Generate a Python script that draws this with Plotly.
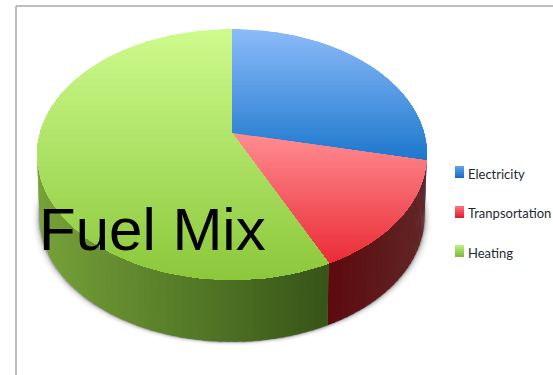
import math
import plotly.graph_objects as go

# Fuel mix shares, in percent, clockwise from twelve o'clock
categories = ["Electricity", "Tranpsortation", "Heating"]
shares = [28.5, 14.5, 57]
chart_title = "Fuel Mix"

W, H = 553, 375

# Drawing styles per category: face gradient (far to near), wall gradient (left to right)
FACE = [((138, 186, 248), (30, 120, 205)),
        ((255, 140, 145), (235, 45, 55)),
        ((205, 250, 140), (140, 200, 60))]
WALL = [((30, 80, 140), (30, 80, 140)),
        ((92, 10, 14), (98, 38, 40)),
        ((118, 162, 56), (54, 84, 24))]
SWATCH = [((90, 160, 235), (30, 110, 195)),
          ((255, 110, 120), (225, 35, 50)),
          ((190, 235, 125), (125, 190, 60))]

# Perspective disc: centre and tilt of the cylinder top
CX, AP_Y, RX = 232.0, 133.0, 192.0
K_A, K_C = 99.0, -0.171
DEPTH = 62.0


def project(px, py, drop=0.0):
    """Map a unit-disc point (py grows toward the viewer) onto the page."""
    den = 1 + K_C * py
    shrink = 1 - 0.012 * (drop / DEPTH)
    return CX + RX * shrink * px / den, (K_A * py + AP_Y) / den + drop


def rim(deg, drop=0.0):
    a = math.radians(deg)
    return project(math.sin(a), -math.cos(a), drop)


def mix(c0, c1, t):
    t = max(0.0, min(1.0, t))
    return "rgb(%d,%d,%d)" % tuple(round(a + (b - a) * t) for a, b in zip(c0, c1))


def clip_below(poly, y0):
    """Keep the part of a polygon lying under the horizontal line y = y0."""
    out = []
    for i, (x1, y1) in enumerate(poly):
        x2, y2 = poly[(i + 1) % len(poly)]
        if y1 >= y0:
            out.append((x1, y1))
        if (y1 >= y0) != (y2 >= y0):
            t = (y0 - y1) / (y2 - y1)
            out.append((x1 + (x2 - x1) * t, y0))
    return out


def add_poly(fig, poly, color):
    fig.add_trace(go.Scatter(
        x=[p[0] for p in poly] + [poly[0][0]],
        y=[p[1] for p in poly] + [poly[0][1]],
        mode="lines", fill="toself", fillcolor=color,
        line=dict(width=0), hoverinfo="skip", showlegend=False))


fig = go.Figure()

# Soft shadow on the ground under the cylinder
for grow, col in [(7, "rgb(248,248,248)"), (5, "rgb(238,238,238)"),
                  (3.5, "rgb(222,222,222)"), (2, "rgb(195,195,195)"),
                  (1, "rgb(160,160,160)")]:
    ring = []
    for d in range(0, 360, 3):
        x, y = rim(d, DEPTH)
        ring.append((x + (x - CX) * grow / 200, y + grow * 0.55))
    add_poly(fig, ring, col)

total = sum(shares)
bounds = [0.0]
for s in shares:
    bounds.append(bounds[-1] + 360.0 * s / total)

# Outer wall, painted as narrow strips whose colour follows the page position
STEP = 2.0
for i in range(3):
    start, end = bounds[i], bounds[i + 1]
    xs = [rim(start + (end - start) * k / 40)[0] for k in range(41)]
    x_lo, x_hi = min(xs), max(xs)
    d = start
    while d < end:
        d1 = min(end, d + STEP + 0.5)
        x_mid = rim((d + d1) / 2)[0]
        col = mix(WALL[i][0], WALL[i][1], (x_mid - x_lo) / max(1.0, x_hi - x_lo))
        if math.cos(math.radians(d)) < 0.35:
            add_poly(fig, [rim(d), rim(d1), rim(d1, DEPTH), rim(d, DEPTH)], col)
        d += STEP

# Top faces with a far-to-near gradient across each wedge's own height
BANDS = 40
for i in range(3):
    start, end = bounds[i], bounds[i + 1]
    n = max(8, int((end - start) / 2))
    wedge = [project(0, 0)] + [rim(start + (end - start) * k / n) for k in range(n + 1)]
    y_lo = min(p[1] for p in wedge)
    y_hi = max(p[1] for p in wedge)
    for b in range(BANDS):
        y0 = y_lo + (y_hi - y_lo) * b / BANDS
        part = clip_below(wedge, y0)
        if len(part) >= 3:
            add_poly(fig, part, mix(FACE[i][0], FACE[i][1], b / (BANDS - 1)))

# Legend: gradient swatches and labels
SWATCH_Y = [166, 206, 245]
LABEL_Y = [174, 213, 253]
shapes = []
annotations = []
for name, top, mid, pair in zip(categories, SWATCH_Y, LABEL_Y, SWATCH):
    for k in range(6):
        shapes.append(dict(type="rect", xref="x", yref="y", layer="above",
                           x0=455, x1=464, y0=top + k * 2, y1=top + (k + 1) * 2,
                           fillcolor=mix(pair[0], pair[1], k / 5), line_width=0))
    annotations.append(dict(x=466, y=mid, xref="x", yref="y", text=name, showarrow=False,
                            xanchor="left", yanchor="middle",
                            font=dict(family="Lato", size=13, color="#1f2a33")))

# Title laid over the pie
annotations.append(dict(x=37, y=229, xref="x", yref="y", text=chart_title, showarrow=False,
                        xanchor="left", yanchor="middle",
                        font=dict(family="Liberation Sans", size=60, color="black")))

# Page frame along the top and left edges
shapes.append(dict(type="line", xref="x", yref="y", x0=16, x1=553, y0=6, y1=6,
                   line=dict(color="#a8a8a8", width=1.5), layer="below"))
shapes.append(dict(type="line", xref="x", yref="y", x0=16, x1=16, y0=6, y1=375,
                   line=dict(color="#a8a8a8", width=1.5), layer="below"))

fig.update_layout(
    width=W, height=H, margin=dict(l=0, r=0, t=0, b=0),
    paper_bgcolor="white", plot_bgcolor="white", showlegend=False,
    xaxis=dict(range=[0, W], visible=False, fixedrange=True),
    yaxis=dict(range=[H, 0], visible=False, fixedrange=True),
    shapes=shapes, annotations=annotations)

fig.write_html("out.html", config={"displayModeBar": False})
